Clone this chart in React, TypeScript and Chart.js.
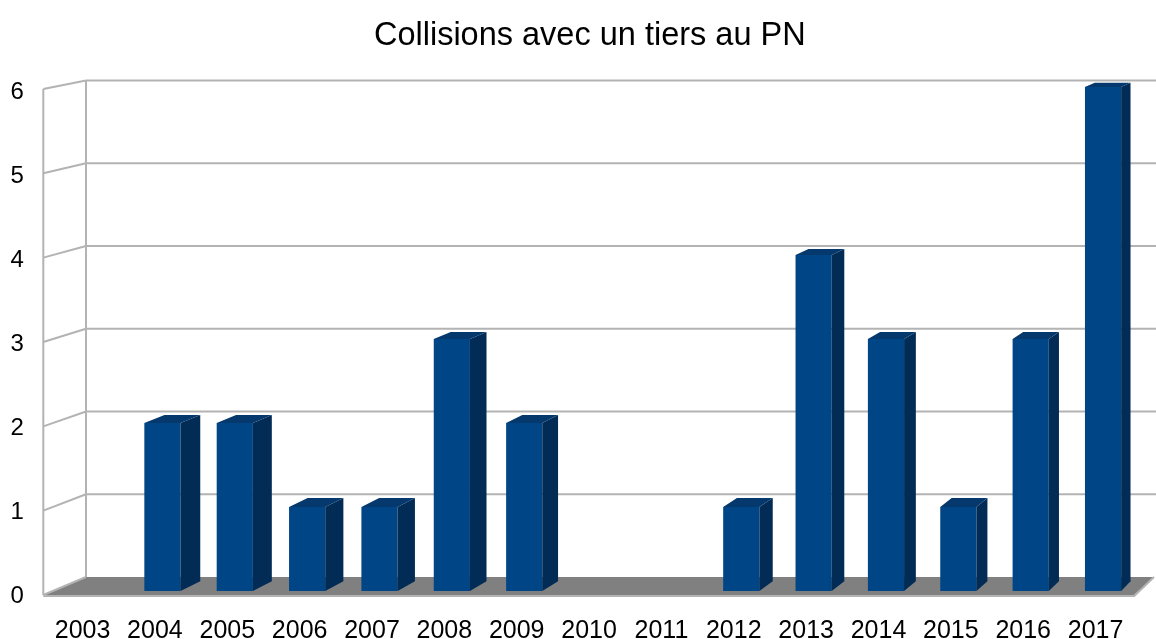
import React, { useEffect, useRef } from "react";
import { Chart, registerables } from "chart.js";

Chart.register(...registerables);

const years = ["2003", "2004", "2005", "2006", "2007", "2008", "2009", "2010", "2011", "2012", "2013", "2014", "2015", "2016", "2017"];
const collisions = [0, 2, 2, 1, 1, 3, 2, 0, 0, 1, 4, 3, 1, 3, 6];
const yTickValues = [0, 1, 2, 3, 4, 5, 6];
const chartTitle = "Collisions avec un tiers au PN";

const FONT = "'Liberation Sans', Arial, Helvetica, sans-serif";
const GRID = "#b3b3b3";
const FLOOR = "#808080";
const BAR_FRONT = "#004586";
const BAR_SIDE = "#022b55";
const BAR_TOP = "#05386c";

// perspective vanishing point for depth
const VX = 1975;
const VY = -300;
const BAR_DEPTH = 0.011;

const walls3d = {
  id: "walls3d",
  afterLayout(chart: any) {
    // center the title over the plot walls rather than the full canvas
    if (chart.titleBlock) chart.titleBlock.left = 28;
  },
  beforeDatasetsDraw(chart: any) {
    const { ctx, chartArea, scales } = chart;
    const ys = scales.y;
    const bottom = ys.getPixelForValue(0);
    const frontY = (v: number) => bottom + 4 + (ys.getPixelForValue(v) - bottom) * 1.004;
    const backY = (v: number) => bottom - 14 + (ys.getPixelForValue(v) - bottom) * 0.985;
    const frontX = chartArea.left - 10.6;
    const backX = chartArea.left + 32.1;
    const backRight = chart.width - 2;
    const frontRight = chartArea.right - 5;
    ctx.save();
    // floor
    ctx.fillStyle = FLOOR;
    ctx.beginPath();
    ctx.moveTo(frontX, frontY(0));
    ctx.lineTo(backX, backY(0));
    ctx.lineTo(backRight, backY(0));
    ctx.lineTo(frontRight, frontY(0));
    ctx.closePath();
    ctx.fill();
    ctx.strokeStyle = GRID;
    ctx.lineWidth = 2;
    // back wall grid lines
    for (const v of yTickValues) {
      if (v === 0) continue;
      ctx.beginPath();
      ctx.moveTo(backX, backY(v));
      ctx.lineTo(chart.width, backY(v));
      ctx.stroke();
    }
    // left wall lines
    for (const v of yTickValues) {
      ctx.beginPath();
      ctx.moveTo(frontX, frontY(v));
      ctx.lineTo(backX, backY(v));
      ctx.stroke();
    }
    const top = yTickValues[yTickValues.length - 1];
    ctx.beginPath();
    ctx.moveTo(frontX, frontY(top));
    ctx.lineTo(frontX, frontY(0));
    ctx.moveTo(backX, backY(top));
    ctx.lineTo(backX, backY(0));
    ctx.stroke();
    // floor front edge
    ctx.beginPath();
    ctx.moveTo(frontX, frontY(0) + 1);
    ctx.lineTo(frontRight, frontY(0) + 1);
    ctx.lineTo(backRight, backY(0));
    ctx.stroke();
    ctx.restore();
  },
  afterDatasetsDraw(chart: any) {
    const { ctx } = chart;
    const meta = chart.getDatasetMeta(0);
    const data = chart.data.datasets[0].data as number[];
    const depth = (x: number, y: number) => [x + BAR_DEPTH * (VX - x), y + BAR_DEPTH * (VY - y)];
    ctx.save();
    meta.data.forEach((bar: any, i: number) => {
      if (!data[i]) return;
      const { x, y, base, width } = bar.getProps(["x", "y", "base", "width"], true);
      const l = x - width / 2;
      const r = x + width / 2;
      const [rtX, rtY] = depth(r, y);
      const [rbX, rbY] = depth(r, base);
      const [ltX, ltY] = depth(l, y);
      ctx.fillStyle = BAR_SIDE;
      ctx.beginPath();
      ctx.moveTo(r, y);
      ctx.lineTo(rtX, rtY);
      ctx.lineTo(rbX, rbY);
      ctx.lineTo(r, base);
      ctx.closePath();
      ctx.fill();
      ctx.fillStyle = BAR_TOP;
      ctx.beginPath();
      ctx.moveTo(l, y);
      ctx.lineTo(ltX, ltY);
      ctx.lineTo(rtX, rtY);
      ctx.lineTo(r, y);
      ctx.closePath();
      ctx.fill();
    });
    ctx.restore();
  },
};

export default function App() {
  const canvasRef = useRef<HTMLCanvasElement | null>(null);

  useEffect(() => {
    if (!canvasRef.current) return;
    const chart = new Chart(canvasRef.current, {
      type: "bar",
      data: {
        labels: years,
        datasets: [
          {
            label: "Collisions",
            data: collisions,
            backgroundColor: BAR_FRONT,
            borderWidth: 0,
            categoryPercentage: 1,
            barPercentage: 0.5,
          },
        ],
      },
      options: {
        responsive: true,
        maintainAspectRatio: false,
        animation: false,
        layout: { padding: { left: 0, right: 4.4, top: 0, bottom: 0 } },
        plugins: {
          legend: { display: false },
          tooltip: { enabled: false },
          title: {
            display: true,
            text: chartTitle,
            color: "#000000",
            font: { family: FONT, size: 32.5, weight: "normal" },
            padding: { top: 17, bottom: 31 },
          },
        },
        scales: {
          x: {
            offset: true,
            grid: { display: false, drawTicks: false },
            border: { display: false },
            ticks: {
              color: "#000000",
              font: { family: FONT, size: 25 },
              padding: 25,
              labelOffset: -7.5,
              maxRotation: 0,
              autoSkip: false,
            },
            afterFit: (scale: any) => {
              scale.height = 48;
            },
          },
          y: {
            min: 0,
            max: 6,
            grid: { display: false, drawTicks: false },
            border: { display: false },
            ticks: {
              stepSize: 1,
              color: "#000000",
              font: { family: FONT, size: 24 },
              padding: 30,
              labelOffset: 5,
            },
            afterFit: (scale: any) => {
              scale.width = 53.9;
            },
          },
        },
      },
      plugins: [walls3d],
    });
    return () => chart.destroy();
  }, []);

  return (
    <div style={{ position: "fixed", left: 0, top: 0, width: 1156, height: 639, background: "#ffffff" }}>
      <canvas ref={canvasRef} />
    </div>
  );
}
